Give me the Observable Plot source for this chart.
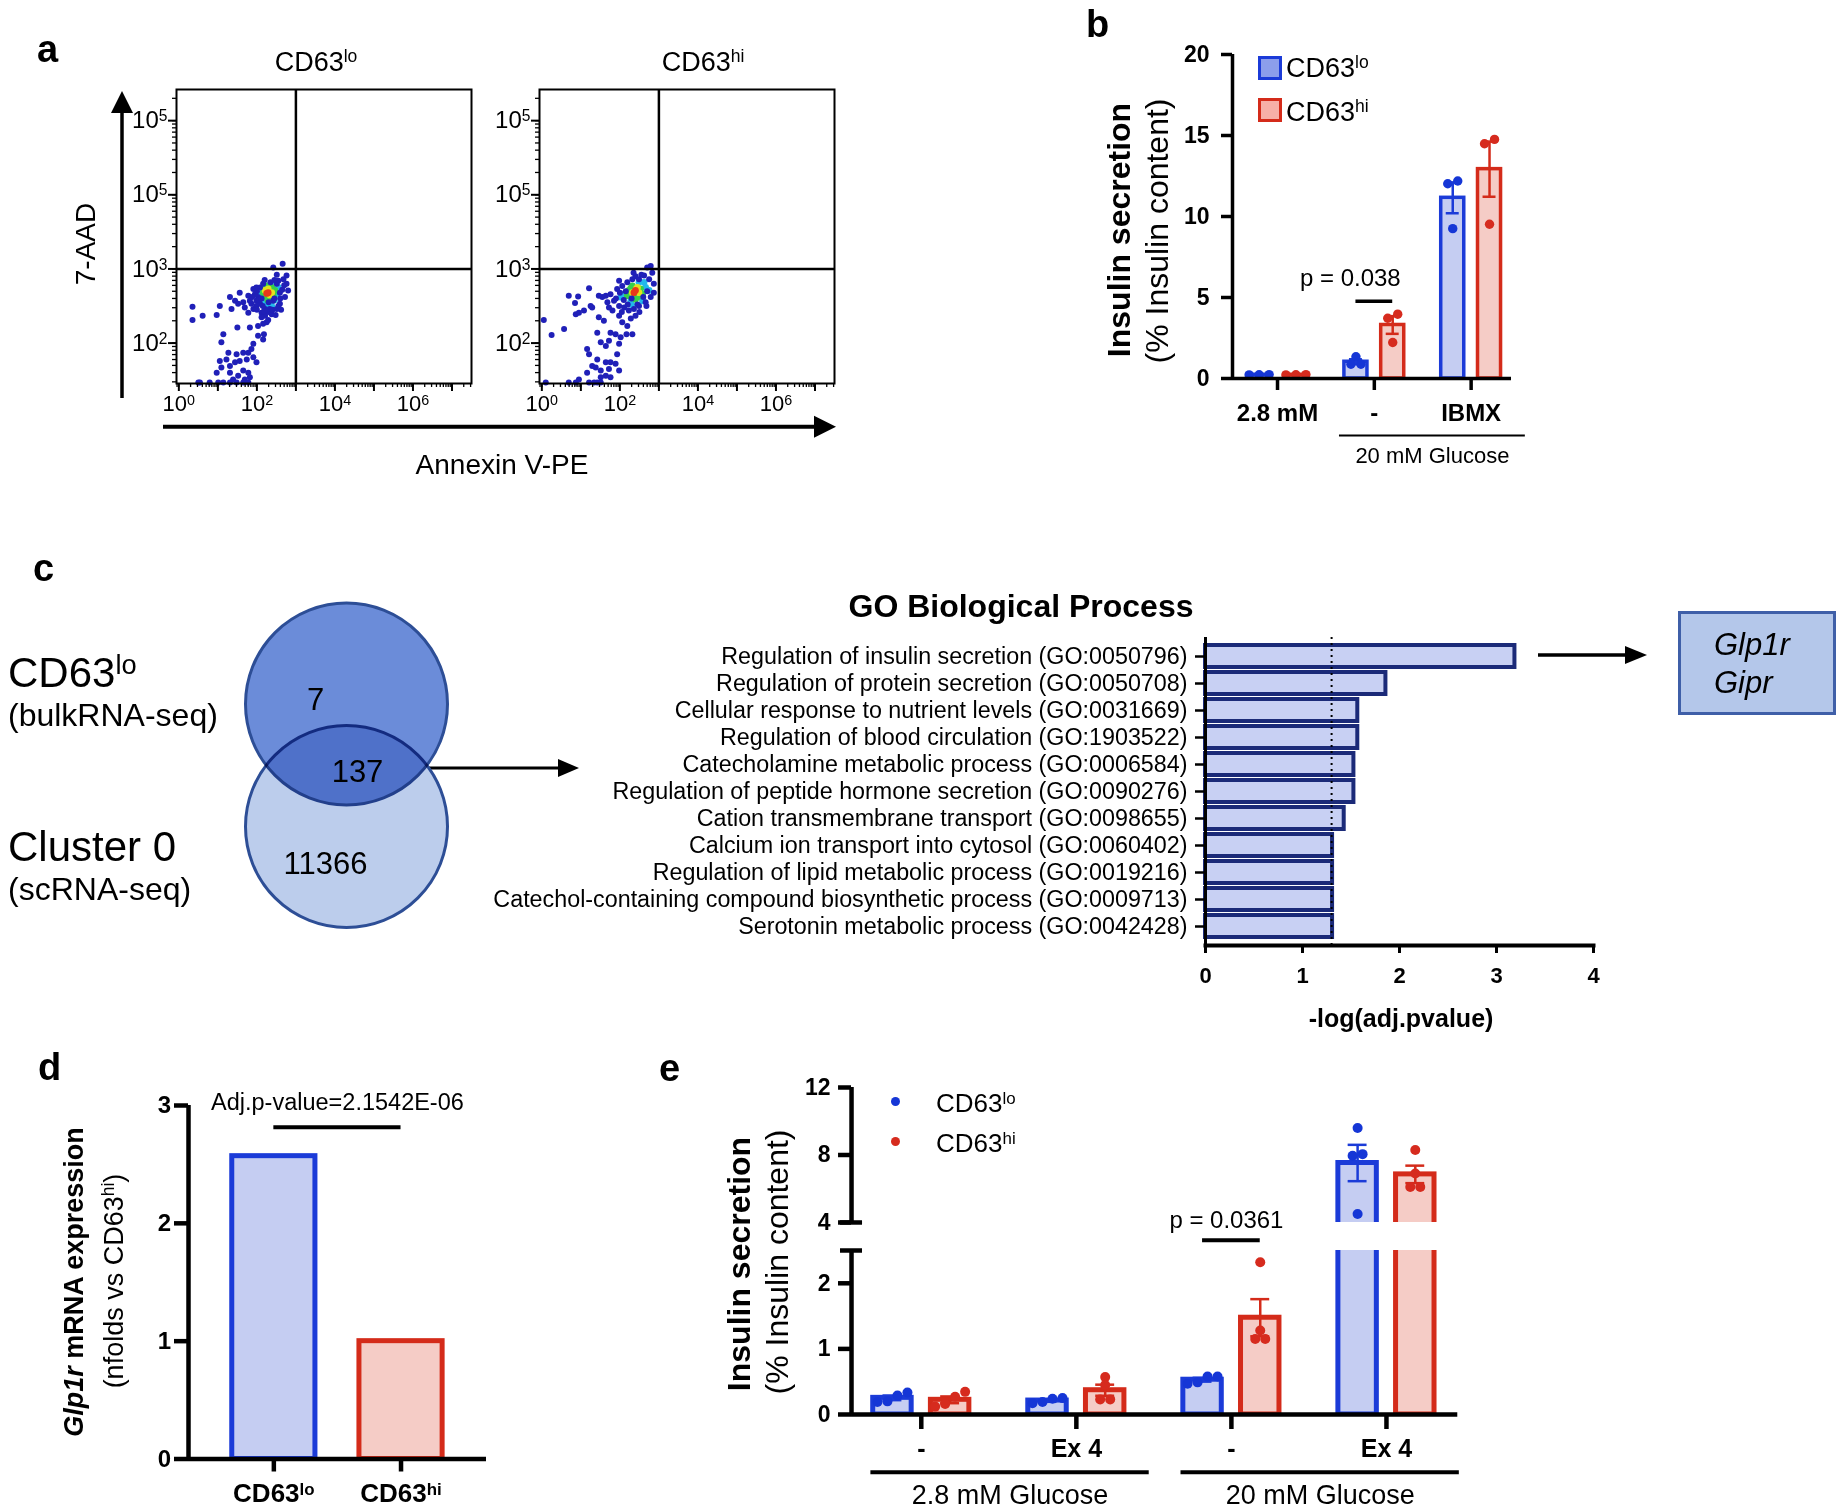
<!DOCTYPE html>
<html><head><meta charset="utf-8">
<script src="https://cdn.jsdelivr.net/npm/d3@7"></script>
<script src="https://cdn.jsdelivr.net/npm/@observablehq/plot@0.6"></script>
<style>
html,body{margin:0;padding:0;background:#fff;}
#fig{position:relative;width:1840px;height:1511px;overflow:hidden;font-family:"Liberation Sans",Arial,Helvetica,sans-serif;color:#000;background:#fff;}
.lab{position:absolute;line-height:1;white-space:nowrap;}
</style></head><body><div id="fig"></div>
<script>
// ================= DATA =================
// Panel a : flow cytometry events, [log10 Annexin V-PE, log10 7-AAD, density level 0..4]
const flowXTickLabels = ["10^0", "10^2", "10^4", "10^6"];     // at 1e0, 1e2, 1e4, 1e6
const flowYTickLabels = ["10^2", "10^3", "10^5", "10^5"];     // as printed at 1e2, 1e3, 1e4, 1e5
const flowTitles = ["CD63^lo", "CD63^hi"];
const flowGate = 1000;
const eventsLo = [
 [2.29,2.68,4],[2.25,2.67,4],
 [2.21,2.71,3],[2.38,2.68,3],[2.29,2.73,3],[2.33,2.65,3],
 [2.33,2.62,2],[2.25,2.77,2],[2.46,2.71,2],[2.16,2.68,2],[2.38,2.75,2],[2.25,2.62,2],[2.42,2.64,2],[2.2,2.66,2],[2.35,2.72,2],[2.28,2.58,2],[2.18,2.74,2],
 [2.12,2.73,1],[2.18,2.62,1],[2.42,2.73,1],[2.55,2.75,1],[2.08,2.66,1],[2.51,2.66,1],[2.38,2.5,1],[2.21,2.55,1],[2.25,2.48,1],[2.15,2.58,1],[2.45,2.58,1],[2.35,2.8,1],[2.05,2.7,1],[2.3,2.5,1],
 [2.42,3.02,0],[2.66,3.07,0],[2.51,2.92,0],[2.76,2.91,0],
 [1.56,2.68,0],[1.31,2.62,0],[1.44,2.57,0],[1.65,2.55,0],[1.78,2.64,0],[1.91,2.73,0],[1.99,2.75,0],[1.69,2.48,0],[1.78,2.41,0],[1.91,2.46,0],[1.99,2.5,0],[2.12,2.41,0],[2.21,2.37,0],[2.25,2.28,0],[2.16,2.26,0],[2.38,2.39,0],[2.51,2.46,0],[2.59,2.53,0],[2.72,2.62,0],[2.8,2.71,0],[2.76,2.8,0],[2.68,2.86,0],[2.55,2.84,0],[2.08,2.53,0],[1.86,2.53,0],[2.03,2.62,0],[2.42,2.57,0],[2.33,2.46,0],[2.21,2.46,0],[1.99,2.57,0],[2.59,2.68,0],[2.51,2.8,0],[2.08,2.75,0],[2.16,2.8,0],[2.29,2.31,0],[2.12,2.35,0],[1.82,2.57,0],[1.95,2.66,0],
 [2.0,2.7,0],[2.05,2.58,0],[2.15,2.5,0],[2.3,2.55,0],[2.45,2.6,0],[2.6,2.6,0],[2.65,2.72,0],[2.55,2.5,0],[2.35,2.82,0],[2.2,2.85,0],[2.45,2.85,0],[2.12,2.6,0],[2.0,2.45,0],[2.3,2.42,0],[2.4,2.45,0],[1.88,2.62,0],[2.7,2.78,0],[2.62,2.45,0],[2.48,2.38,0],[2.18,2.43,0],
 [0.35,2.49,0],[0.61,2.37,0],[0.35,2.31,0],[0.97,2.38,0],[1.05,2.5,0],[1.35,2.46,0],[1.52,2.53,0],
 [1.5,2.21,0],[1.82,2.21,0],[2.03,2.23,0],[2.03,2.1,0],[2.18,2.12,0],[2.16,2.05,0],[1.91,1.99,0],[1.86,1.92,0],[1.78,1.87,0],[1.65,1.87,0],[1.14,2.12,0],[1.09,2.01,0],[1.27,1.87,0],[1.48,1.85,0],[1.22,1.78,0],[1.05,1.76,0],[1.44,1.74,0],[1.56,1.76,0],[1.74,1.78,0],[1.91,1.81,0],[1.99,1.74,0],[1.31,1.69,0],[1.65,1.63,0],[1.78,1.6,0],[1.31,1.6,0],[1.52,1.56,0],[1.82,1.54,0],[1.69,1.51,0],[0.97,1.6,0],[1.09,1.67,0],[1.39,1.51,0],
 [0.5,1.47,0],[0.54,1.47,0],[0.79,1.47,0],[1.01,1.47,0],[1.14,1.47,0],[1.31,1.47,0],[1.48,1.47,0],[1.65,1.47,0],[1.78,1.47,0]
];
const eventsHi = [
 [2.4,2.71,4],[2.36,2.68,4],
 [2.32,2.68,3],[2.45,2.75,3],[2.49,2.68,3],[2.42,2.73,3],
 [2.23,2.71,2],[2.36,2.64,2],[2.53,2.73,2],[2.32,2.77,2],[2.58,2.66,2],[2.4,2.59,2],[2.19,2.64,2],[2.45,2.62,2],[2.28,2.74,2],
 [2.11,2.66,1],[2.49,2.82,1],[2.66,2.75,1],[2.28,2.57,1],[2.02,2.62,1],[2.58,2.57,1],[2.75,2.71,1],[2.3,2.52,1],[2.62,2.82,1],
 [2.79,3.04,0],[2.7,3.02,0],[2.83,2.95,0],[2.75,2.86,0],[2.87,2.8,0],[2.62,2.91,0],[2.49,2.86,0],[2.32,2.86,0],[2.19,2.82,0],[2.06,2.77,0],[1.98,2.84,0],[1.93,2.73,0],[1.76,2.66,0],[1.64,2.64,0],[1.55,2.62,0],[1.68,2.55,0],[1.85,2.57,0],[1.98,2.5,0],[2.11,2.48,0],[2.23,2.44,0],[2.36,2.46,0],[2.49,2.5,0],[2.66,2.55,0],[2.79,2.62,0],[2.87,2.68,0],[2.4,2.37,0],[2.28,2.33,0],[2.19,2.23,0],[2.06,2.28,0],[1.98,2.37,0],[1.81,2.44,0],[1.72,2.48,0],[1.29,2.48,0],[1.21,2.74,0],[1.46,2.64,0],
 [2.0,2.68,0],[2.1,2.58,0],[2.2,2.52,0],[2.45,2.52,0],[2.6,2.62,0],[2.7,2.7,0],[2.55,2.92,0],[2.4,2.9,0],[2.15,2.7,0],[1.9,2.6,0],[2.3,2.6,0],[2.5,2.42,0],[2.35,2.95,0],[2.05,2.42,0],[2.68,2.5,0],
 [0.05,2.31,0],[0.25,2.11,0],[0.57,2.19,0],[0.69,2.64,0],[0.85,2.54,0],[0.93,2.63,0],[0.87,2.39,0],[0.95,2.41,0],[1.08,2.44,0],[1.25,2.5,0],[1.46,2.35,0],[1.59,2.3,0],
 [1.16,1.92,0],[1.21,1.85,0],[1.42,2.14,0],[1.51,2.01,0],[1.64,1.96,0],[1.72,2.03,0],[1.76,2.14,0],[1.89,2.12,0],[1.98,1.99,0],[1.93,1.85,0],[2.02,2.08,0],[2.17,2.12,0],[2.32,2.12,0],[1.42,1.78,0],[1.29,1.69,0],[1.64,1.74,0],[1.76,1.74,0],[1.51,1.63,0],[1.16,1.6,0],[1.38,1.67,0],[1.72,1.65,0],[1.98,1.63,0],[1.89,1.72,0],[0.95,1.51,0],[1.64,1.56,0],[1.76,1.54,0],[1.51,1.54,0],
 [0.1,1.47,0],[0.69,1.47,0],[0.87,1.47,0],[1.21,1.47,0],[1.34,1.47,0],[1.42,1.47,0],[1.51,1.47,0]
];

// Panel b : insulin secretion (% insulin content), 3 replicates
const bConditions = ["2.8 mM", "-", "IBMX"];
const bLo = [[0.24, 0.22, 0.23], [1.34, 0.88, 0.88], [12.19, 12.02, 9.25]];
const bHi = [[0.23, 0.24, 0.22], [3.97, 3.72, 2.22], [14.76, 14.49, 9.52]];
const bSig = [{at: 1, label: "p = 0.038"}];
const bGroupLabels = [{from: 1, to: 2, label: "20 mM Glucose"}];
const bYTicks = [0, 5, 10, 15, 20];

// Panel c : Venn + GO enrichment
const vennSets = ["CD63^lo", "Cluster 0"];
const vennSubs = ["(bulkRNA-seq)", "(scRNA-seq)"];
const vennCounts = [7, 137, 11366];          // only bulk, shared, only cluster 0
const goTerms = [
 "Regulation of insulin secretion (GO:0050796)",
 "Regulation of protein secretion (GO:0050708)",
 "Cellular response to nutrient levels (GO:0031669)",
 "Regulation of blood circulation (GO:1903522)",
 "Catecholamine metabolic process (GO:0006584)",
 "Regulation of peptide hormone secretion (GO:0090276)",
 "Cation transmembrane transport (GO:0098655)",
 "Calcium ion transport into cytosol (GO:0060402)",
 "Regulation of lipid metabolic process (GO:0019216)",
 "Catechol-containing compound biosynthetic process (GO:0009713)",
 "Serotonin metabolic process (GO:0042428)"
];
const goValues = [3.19, 1.86, 1.57, 1.57, 1.53, 1.53, 1.43, 1.31, 1.31, 1.31, 1.31];
const goCutoff = 1.3;
const goTicks = [0, 1, 2, 3, 4];
const goGenes = ["Glp1r", "Gipr"];

// Panel d : Glp1r mRNA
const dGroups = ["CD63^lo", "CD63^hi"];
const dValues = [2.57, 1.0];
const dSig = [{from: 0, to: 1, label: "Adj.p-value=2.1542E-06"}];
const dYTicks = [0, 1, 2, 3];

// Panel e : insulin secretion with Ex-4, 4 replicates
const eConditions = ["-", "Ex 4", "-", "Ex 4"];
const eGlucose = ["2.8 mM Glucose", "2.8 mM Glucose", "20 mM Glucose", "20 mM Glucose"];
const eLo = [[0.335, 0.29, 0.2, 0.19], [0.25, 0.24, 0.19, 0.17], [0.58, 0.58, 0.49, 0.47], [9.6, 8.05, 7.95, 4.5]];
const eHi = [[0.345, 0.27, 0.16, 0.12], [0.57, 0.45, 0.23, 0.23], [2.32, 1.28, 1.15, 1.15], [8.3, 6.9, 6.1, 6.1]];
const eSig = [{at: 2, label: "p = 0.0361"}];
const eUpperTicks = [4, 8, 12];
const eLowerTicks = [0, 1, 2];
const eBreak = [2.5, 4];

// ================= STYLE =================
const FONT = '"Liberation Sans", Arial, Helvetica, sans-serif';
const BLUE = "#1b3bd8", BLUE_FILL = "#c5cdf2", RED = "#d42b1a", RED_FILL = "#f5ccc6";
const BLUE_DOT = "#1536d6", RED_DOT = "#d62b1e";
const DENS = ["#2020b8", "#22b8ea", "#36d04c", "#e4e01e", "#e8381a"];
const fig = document.getElementById("fig");
const baseStyle = {fontFamily: FONT, background: "transparent", overflow: "visible"};
const intFmt = d => String(d);

function supify(root) {
  const ns = "http://www.w3.org/2000/svg";
  const fix = el => {
    const s = el.textContent;
    if (!s || !s.includes("^")) return;
    const [a, b] = s.split("^");
    el.textContent = "";
    const t1 = document.createElementNS(ns, "tspan"); t1.textContent = a;
    const t2 = document.createElementNS(ns, "tspan"); t2.textContent = b;
    t2.setAttribute("dy", "-0.45em"); t2.setAttribute("font-size", "65%");
    el.append(t1, t2);
  };
  root.querySelectorAll("text").forEach(t => {
    const sp = t.querySelectorAll("tspan");
    if (sp.length) sp.forEach(fix); else fix(t);
  });
}
function mount(svg, left, top) {
  svg.style.position = "absolute"; svg.style.left = left + "px"; svg.style.top = top + "px";
  svg.style.overflow = "visible"; svg.style.background = "transparent"; svg.style.maxWidth = "none";
  fig.appendChild(svg); supify(svg); return svg;
}
const sup = s => `<span style="font-size:0.65em;vertical-align:0.46em;line-height:0">${s}</span>`;
const rich = s => s.includes("^") ? s.split("^")[0] + sup(s.split("^")[1]) : s;
function lab(html, x, y, o = {}) {
  const el = document.createElement("div");
  el.className = "lab"; el.innerHTML = html;
  el.style.fontSize = (o.size || 24) + "px";
  el.style.fontWeight = o.bold ? "bold" : "normal";
  if (o.italic) el.style.fontStyle = "italic";
  el.style.left = x + "px"; el.style.top = y + "px";
  const tx = o.anchor === "middle" ? "-50%" : o.anchor === "end" ? "-100%" : "0";
  el.style.transform = o.rotate ? `translate(-50%,-50%) rotate(${o.rotate}deg)` : `translate(${tx},-50%)`;
  fig.appendChild(el); return el;
}
function swarm(vals, pxY, r, gap) {
  const idx = vals.map((v, i) => i).sort((a, b) => vals[a] - vals[b]);
  const off = new Array(vals.length).fill(0);
  let g = [idx[0]];
  const flush = () => { const n = g.length; g.forEach((k, j) => off[k] = (j - (n - 1) / 2) * gap); };
  for (let j = 1; j < idx.length; j++) {
    const a = vals[idx[j - 1]], b = vals[idx[j]];
    if ((b - a) * pxY(b) < 1.5 * r) g.push(idx[j]); else { flush(); g = [idx[j]]; }
  }
  flush();
  return off;
}
function buildBars(lo, hi, sep, pxY, pxX, r, gap) {
  const bars = [], dots = [];
  [lo, hi].forEach((series, s) => series.forEach((vals, i) => {
    const x = i + (s ? sep : -sep);
    bars.push({x, s, mean: d3.mean(vals), sem: d3.deviation(vals) / Math.sqrt(vals.length)});
    const off = swarm(vals, pxY, r, gap);
    vals.forEach((v, k) => dots.push({x: x + off[k] / pxX, v, s}));
  }));
  return {bars, dots};
}
const fillOf = d => d.s ? RED_FILL : BLUE_FILL;
const strokeOf = d => d.s ? RED : BLUE;
const dotOf = d => d.s ? RED_DOT : BLUE_DOT;

// ================= DECORATION ARROWS =================
const ov = d3.create("svg").attr("width", 1840).attr("height", 1511)
  .style("position", "absolute").style("left", "0px").style("top", "0px");
function arrow(x1, y1, x2, y2, w, hl, hh) {
  const a = Math.atan2(y2 - y1, x2 - x1);
  const bx = x2 - hl * Math.cos(a), by = y2 - hl * Math.sin(a);
  ov.append("line").attr("x1", x1).attr("y1", y1).attr("x2", bx).attr("y2", by).attr("stroke", "#000").attr("stroke-width", w);
  const px = -Math.sin(a) * hh, py = Math.cos(a) * hh;
  ov.append("path").attr("d", `M${x2},${y2}L${bx + px},${by + py}L${bx - px},${by - py}Z`).attr("fill", "#000");
}
arrow(122, 398, 122, 91, 3.5, 22, 11);
arrow(163, 426.7, 836, 426.7, 4, 22, 11);
arrow(400, 768, 579, 768, 3, 21, 9);
arrow(1538, 655, 1647, 655, 3.5, 22, 9);
fig.appendChild(ov.node());

// ================= PANEL a =================
function flowPlot(events, left) {
  const data = events.map(([a, b, l]) => ({annexin: 10 ** a, aad: 10 ** b, l})).sort((p, q) => p.l - q.l);
  const xDom = [10 ** -0.06, 10 ** 7.5], yDom = [10 ** 1.455, 10 ** 5.42];
  const xMinor = [], yMinor = [];
  for (let k = -1; k <= 8; k++) for (let m = 1; m <= 9; m++) {
    const v = m * 10 ** k;
    if (v >= xDom[0] && v <= xDom[1]) xMinor.push(v);
    if (v >= yDom[0] && v <= yDom[1]) yMinor.push(v);
  }
  const xMajor = [1, 10, 100, 1e3, 1e4, 1e5, 1e6, 1e7];
  const xLab = new Map([[1, flowXTickLabels[0]], [100, flowXTickLabels[1]], [1e4, flowXTickLabels[2]], [1e6, flowXTickLabels[3]]]);
  const yMajor = [100, 1000, 1e4, 1e5];
  const yLab = new Map(yMajor.map((v, i) => [v, flowYTickLabels[i]]));
  const mL = 62, mR = 8, mT = 4, mB = 44, W = 295, H = 294;
  const svg = Plot.plot({
    width: W + mL + mR, height: H + mT + mB, marginLeft: mL, marginRight: mR, marginTop: mT, marginBottom: mB,
    style: baseStyle,
    x: {type: "log", domain: xDom, label: null},
    y: {type: "log", domain: yDom, label: null},
    marks: [
      Plot.dot(data, {x: "annexin", y: "aad", r: d => d.l ? 1.9 : 1.5, fill: d => DENS[d.l], stroke: null}),
      Plot.ruleX([flowGate], {stroke: "#000", strokeWidth: 2.5}),
      Plot.ruleY([flowGate], {stroke: "#000", strokeWidth: 2.5}),
      Plot.frame({stroke: "#000", strokeWidth: 2}),
      Plot.axisX({ticks: xMinor, tickSize: 4, tickFormat: () => "", strokeWidth: 1.3}),
      Plot.axisX({ticks: xMajor, tickSize: 8, tickPadding: 4, tickFormat: d => xLab.get(d) || "", fontSize: 22, strokeWidth: 2}),
      Plot.axisY({ticks: yMinor, tickSize: 4, tickFormat: () => "", strokeWidth: 1.3}),
      Plot.axisY({ticks: yMajor, tickSize: 8, tickPadding: 1, tickFormat: d => yLab.get(d) || "", fontSize: 24, strokeWidth: 2})
    ]
  });
  mount(svg, left - mL, 89 - mT);
}
flowPlot(eventsLo, 176);
flowPlot(eventsHi, 539);

// ================= PANEL b =================
{
  const pxY = 324 / 20, pxX = 96.8, r = 4.7;
  const B = buildBars(bLo, bHi, 0.19, () => pxY, pxX, r, 10);
  const x0 = -0.465, bw = 0.119, cap = 0.067;
  const mL = 60, mR = 40, mT = 10, mB = 90;
  const topOf = d => d3.max([...bLo[d.at], ...bHi[d.at]]);
  const svg = Plot.plot({
    width: mL + 279 + mR, height: mT + 324 + mB, marginLeft: mL, marginRight: mR, marginTop: mT, marginBottom: mB,
    style: baseStyle,
    x: {domain: [x0, 2.417], label: null},
    y: {domain: [0, 20], label: null},
    marks: [
      Plot.rectY(B.bars, {x1: d => d.x - bw, x2: d => d.x + bw, y1: 0, y2: "mean", fill: fillOf, stroke: strokeOf, strokeWidth: 3.5}),
      Plot.ruleX(B.bars, {x: "x", y1: d => d.mean - d.sem, y2: d => d.mean + d.sem, stroke: strokeOf, strokeWidth: 2.5}),
      Plot.ruleY(B.bars, {y: d => d.mean + d.sem, x1: d => d.x - cap, x2: d => d.x + cap, stroke: strokeOf, strokeWidth: 2.5}),
      Plot.ruleY(B.bars, {y: d => d.mean - d.sem, x1: d => d.x - cap, x2: d => d.x + cap, stroke: strokeOf, strokeWidth: 2.5}),
      Plot.dot(B.dots, {x: "x", y: "v", r, fill: dotOf, stroke: null}),
      Plot.ruleX([x0], {y1: 0, y2: 20, strokeWidth: 3.5}),
      Plot.ruleY([0], {strokeWidth: 3.5}),
      Plot.axisY({ticks: bYTicks, tickFormat: intFmt, tickSize: 11, tickPadding: 12, fontSize: 23, fontWeight: "bold", strokeWidth: 3.5}),
      Plot.axisX({ticks: [0, 1, 2], tickFormat: i => bConditions[i], tickSize: 12, tickPadding: 13, fontSize: 24, fontWeight: "bold", strokeWidth: 3.5}),
      Plot.ruleY(bSig, {x1: d => d.at - 0.19, x2: d => d.at + 0.19, y: topOf, dy: -13, strokeWidth: 3.5}),
      Plot.text(bSig, {x: "at", y: topOf, dy: -35.6, dx: -24, text: "label", fontSize: 24}),
      Plot.ruleY(bGroupLabels, {x1: d => d.from - 0.36, x2: d => d.to + 0.56, y: 0, dy: 57, strokeWidth: 2}),
      Plot.text(bGroupLabels, {x: d => (d.from - 0.36 + d.to + 0.56) / 2, y: 0, dy: 77, text: "label", fontSize: 22})
    ]
  });
  mount(svg, 1232 - mL, 54 - mT);
}

// ================= PANEL c : Venn =================
{
  const svg = Plot.plot({
    width: 700, height: 420, margin: 0, style: baseStyle,
    x: {domain: [-1, 1], range: [0, 692], axis: null},
    y: {domain: [0, 1], range: [163.5, 286], axis: null},
    marks: [
      Plot.dot([1], {x: () => 0, y: d => d, r: 101, fill: "#bccdec", stroke: "#2d4e96", strokeWidth: 3}),
      Plot.dot([0], {x: () => 0, y: d => d, r: 101, fill: "#6b8cd9", stroke: "#2d4e96", strokeWidth: 3, mixBlendMode: "multiply"}),
      Plot.text([vennCounts[0]], {x: () => 0, y: () => 0, text: d => String(d), dx: -31, dy: -3.5, fontSize: 31}),
      Plot.text([vennCounts[1]], {x: () => 0, y: () => 0.5, text: d => String(d), dx: 11, dy: 7, fontSize: 31}),
      Plot.text([vennCounts[2]], {x: () => 0, y: () => 1, text: d => String(d), dx: -21, dy: 38, fontSize: 31})
    ]
  });
  mount(svg, 0, 540);
  const circ = svg.querySelectorAll("circle");
  if (circ.length) circ[circ.length - 1].style.mixBlendMode = "multiply";
}

// ================= PANEL c : GO =================
{
  const data = goTerms.map((t, i) => ({term: t, v: goValues[i]}));
  const mL = 700, mR = 20, mT = 10, mB = 50;
  const svg = Plot.plot({
    width: mL + 388 + mR, height: mT + 308 + mB, marginLeft: mL, marginRight: mR, marginTop: mT, marginBottom: mB,
    style: baseStyle,
    x: {domain: [0, 4], label: null},
    y: {domain: goTerms, paddingInner: 0.2, paddingOuter: 0.245, label: null},
    marks: [
      Plot.barX(data, {x: "v", y: "term", fill: "#c8d0f3", stroke: "#1b2a78", strokeWidth: 4, insetTop: 0, insetBottom: 0}),
      Plot.ruleX([goCutoff], {strokeDasharray: "2,4", strokeWidth: 2, stroke: "#000"}),
      Plot.ruleX([0], {strokeWidth: 3}),
      Plot.frame({anchor: "bottom", strokeWidth: 4}),
      Plot.axisY({tickSize: 10, tickPadding: 8, fontSize: 23.3, strokeWidth: 2.5}),
      Plot.axisX({ticks: goTicks, tickFormat: intFmt, tickSize: 8, tickPadding: 14, fontSize: 22, fontWeight: "bold", strokeWidth: 3})
    ]
  });
  mount(svg, 1205 - mL, 637 - mT);
}

// ================= PANEL d =================
{
  const data = dGroups.map((g, i) => ({i, v: dValues[i], s: i}));
  const x0 = -0.671, mL = 40, mR = 20, mT = 60, mB = 60;
  const topOf = () => d3.max(dValues);
  const svg = Plot.plot({
    width: mL + 298 + mR, height: mT + 353.5 + mB, marginLeft: mL, marginRight: mR, marginTop: mT, marginBottom: mB,
    style: baseStyle,
    x: {domain: [x0, 1.672], label: null},
    y: {domain: [0, 3], label: null},
    marks: [
      Plot.rectY(data, {x1: d => d.i - 0.327, x2: d => d.i + 0.327, y1: 0, y2: "v", fill: fillOf, stroke: strokeOf, strokeWidth: 5}),
      Plot.ruleX([x0], {y1: 0, y2: 3, strokeWidth: 4.5}),
      Plot.ruleY([0], {strokeWidth: 4.5}),
      Plot.axisY({ticks: dYTicks, tickFormat: intFmt, tickSize: 14, tickPadding: 3.5, fontSize: 24, fontWeight: "bold", strokeWidth: 4.5}),
      Plot.axisX({ticks: [0, 1], tickFormat: i => dGroups[i], tickSize: 13, tickPadding: 12, fontSize: 26, fontWeight: "bold", strokeWidth: 4.5}),
      Plot.ruleY(dSig, {x1: "from", x2: "to", y: topOf, dy: -29, strokeWidth: 4}),
      Plot.text(dSig, {x: d => (d.from + d.to) / 2, y: topOf, dy: -54, text: "label", fontSize: 23.5})
    ]
  });
  mount(svg, 188 - mL, 1105 - mT);
}

// ================= PANEL e =================
{
  const pxUp = 135 / 8, pxLow = 164 / 2.5, pxX = 155.07, r = 5;
  const pxY = v => v >= eBreak[1] ? pxUp : pxLow;
  const E = buildBars(eLo, eHi, 0.186, pxY, pxX, r, 10);
  const x0 = -0.45, x1 = 3.46, bw = 0.124, cap = 0.061, brk = 0.071;
  const mL = 60, mR = 20;
  const barMarks = (bars, clip) => [
    Plot.rectY(bars, {x1: d => d.x - bw, x2: d => d.x + bw, y1: 0, y2: "mean", fill: fillOf, stroke: strokeOf, strokeWidth: 5, clip})
  ];
  const errMarks = bars => [
    Plot.ruleX(bars, {x: "x", y1: d => d.mean - d.sem, y2: d => d.mean + d.sem, stroke: strokeOf, strokeWidth: 2.5}),
    Plot.ruleY(bars, {y: d => d.mean + d.sem, x1: d => d.x - cap, x2: d => d.x + cap, stroke: strokeOf, strokeWidth: 2.5}),
    Plot.ruleY(bars, {y: d => d.mean - d.sem, x1: d => d.x - cap, x2: d => d.x + cap, stroke: strokeOf, strokeWidth: 2.5})
  ];
  // upper segment
  const upBars = E.bars.filter(d => d.mean > eBreak[1]);
  const up = Plot.plot({
    width: mL + 606.3 + mR, height: 10 + 135 + 2, marginLeft: mL, marginRight: mR, marginTop: 10, marginBottom: 2,
    style: baseStyle,
    x: {domain: [x0, x1], axis: null, label: null},
    y: {domain: [eBreak[1], 12], label: null},
    marks: [
      ...barMarks(upBars, true),
      ...errMarks(upBars),
      Plot.dot(E.dots.filter(d => d.v >= eBreak[1]), {x: "x", y: "v", r, fill: dotOf, stroke: null}),
      Plot.ruleX([x0], {y1: eBreak[1], y2: 12, strokeWidth: 4.5}),
      Plot.ruleY([eBreak[1]], {x1: x0 - brk, x2: x0 + brk, strokeWidth: 4.5}),
      Plot.axisY({ticks: eUpperTicks, tickFormat: intFmt, tickSize: 13, tickPadding: 8, fontSize: 23, fontWeight: "bold", strokeWidth: 4.5})
    ]
  });
  mount(up, 851 - mL, 1086.7 - 10);
  // lower segment
  const lowBars = E.bars.filter(d => d.mean + d.sem <= eBreak[0]);
  const brackets = d3.groups(eGlucose.map((g, i) => ({g, i})), d => d.g)
    .map(([label, items]) => ({label, from: d3.min(items, d => d.i), to: d3.max(items, d => d.i)}));
  const topOf = d => d3.max([...eLo[d.at], ...eHi[d.at]]);
  const low = Plot.plot({
    width: mL + 606.3 + mR, height: 30 + 164 + 100, marginLeft: mL, marginRight: mR, marginTop: 30, marginBottom: 100,
    style: baseStyle,
    x: {domain: [x0, x1], label: null},
    y: {domain: [0, eBreak[0]], label: null},
    marks: [
      ...barMarks(E.bars, true),
      ...errMarks(lowBars),
      Plot.dot(E.dots.filter(d => d.v <= eBreak[0]), {x: "x", y: "v", r, fill: dotOf, stroke: null}),
      Plot.ruleX([x0], {y1: 0, y2: eBreak[0], strokeWidth: 4.5}),
      Plot.ruleY([eBreak[0]], {x1: x0 - brk, x2: x0 + brk, strokeWidth: 4.5}),
      Plot.ruleY([0], {strokeWidth: 4.5}),
      Plot.axisY({ticks: eLowerTicks, tickFormat: intFmt, tickSize: 13, tickPadding: 8, fontSize: 23, fontWeight: "bold", strokeWidth: 4.5}),
      Plot.axisX({ticks: [0, 1, 2, 3], tickFormat: i => eConditions[i], tickSize: 15, tickPadding: 10, fontSize: 25, fontWeight: "bold", strokeWidth: 4.5}),
      Plot.ruleY(brackets, {x1: d => d.from - 0.325, x2: d => d.to + 0.47, y: 0, dy: 57.7, strokeWidth: 4}),
      Plot.text(brackets, {x: d => (d.from - 0.325 + d.to + 0.47) / 2, y: 0, dy: 81, text: "label", fontSize: 27}),
      Plot.ruleY(eSig, {x1: d => d.at - 0.186, x2: d => d.at + 0.186, y: topOf, dy: -22, strokeWidth: 4}),
      Plot.text(eSig, {x: "at", y: topOf, dy: -41.6, dx: -5, text: "label", fontSize: 24})
    ]
  });
  mount(low, 851 - mL, 1250 - 30);
}

// ================= TEXT LABELS =================
lab("a", 37, 49, {size: 38, bold: true});
lab("b", 1086, 23.5, {size: 38, bold: true});
lab("c", 33, 568, {size: 38, bold: true});
lab("d", 38, 1067, {size: 38, bold: true});
lab("e", 659, 1068, {size: 38, bold: true});
// panel a
lab(rich(flowTitles[0]), 316, 61.7, {size: 27, anchor: "middle"});
lab(rich(flowTitles[1]), 703, 61.7, {size: 27, anchor: "middle"});
lab("7-AAD", 86, 244, {size: 28, rotate: -90});
lab("Annexin V-PE", 502, 465, {size: 28, anchor: "middle"});
// panel b
lab("Insulin secretion", 1119, 230, {size: 32, bold: true, rotate: -90});
lab("(% Insulin content)", 1157, 231, {size: 32, rotate: -90});
[[BLUE, "#8c9eeb", 56, 68, "CD63^lo"], [RED, "#f7b0a8", 98, 111.7, "CD63^hi"]].forEach(([st, fl, y, ty, t]) => {
  const sq = document.createElement("div");
  Object.assign(sq.style, {position: "absolute", left: "1258px", top: y + "px", width: "24px", height: "24px",
    boxSizing: "border-box", border: `3px solid ${st}`, background: fl});
  fig.appendChild(sq);
  lab(rich(t), 1286, ty, {size: 27});
});
// panel c
lab(rich(vennSets[0]), 8, 672.5, {size: 42});
lab(vennSubs[0], 8, 714.8, {size: 32});
lab(vennSets[1], 8, 847, {size: 42});
lab(vennSubs[1], 8, 888.8, {size: 32});
lab("GO Biological Process", 1021, 605.5, {size: 32, bold: true, anchor: "middle"});
lab("-log(adj.pvalue)", 1401, 1018, {size: 25, bold: true, anchor: "middle"});
{
  const box = document.createElement("div");
  Object.assign(box.style, {position: "absolute", left: "1678px", top: "611px", width: "158px", height: "104px",
    boxSizing: "border-box", border: "3px solid #3f5fa8", background: "#b4c7ea"});
  fig.appendChild(box);
  lab(goGenes[0], 1714, 643.5, {size: 31, italic: true});
  lab(goGenes[1], 1714, 681.7, {size: 31, italic: true});
}
// panel d
lab("<i>Glp1r</i> mRNA expression", 73.7, 1281.6, {size: 27, bold: true, rotate: -90});
lab("(nfolds vs CD63" + sup("hi") + ")", 113.7, 1281, {size: 27, rotate: -90});
// panel e
lab("Insulin secretion", 738.7, 1263.5, {size: 32, bold: true, rotate: -90});
lab("(% Insulin content)", 777, 1261.5, {size: 32, rotate: -90});
[[BLUE_DOT, 1101, "CD63^lo"], [RED_DOT, 1141, "CD63^hi"]].forEach(([c, y, t]) => {
  const dt = document.createElement("div");
  Object.assign(dt.style, {position: "absolute", left: (895.6 - 4.5) + "px", top: (y - 4.5) + "px", width: "9px", height: "9px",
    borderRadius: "50%", background: c});
  fig.appendChild(dt);
  lab(rich(t), 936, y + 2, {size: 26});
});
</script></body></html>
